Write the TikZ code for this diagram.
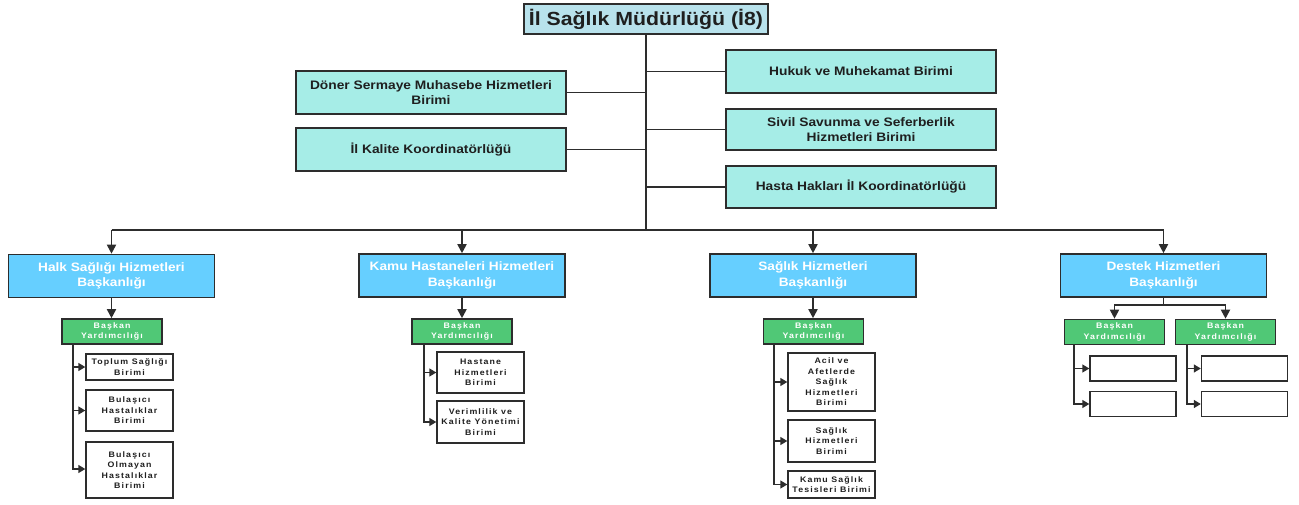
\documentclass[tikz,border=0pt]{standalone}
\usepackage{fontspec}
\setmainfont{Liberation Sans}[FakeStretch=1.12]
\usetikzlibrary{arrows.meta}
\definecolor{boxline}{RGB}{45,45,45}
\definecolor{topfill}{RGB}{184,226,236}
\definecolor{stafffill}{RGB}{166,237,231}
\definecolor{deptfill}{RGB}{102,207,255}
\definecolor{deputyfill}{RGB}{80,200,118}
\newfontfamily\spacedfont{Liberation Sans}[LetterSpace=14,FakeStretch=1.1]
\tikzset{
  box/.style={draw=boxline, line width=1.6pt, align=center, inner sep=1pt, text=black!88},
  topbox/.style={box, fill=topfill, minimum width=244pt, minimum height=30pt,
    font=\fontsize{19}{21}\selectfont\bfseries},
  staffbox/.style={box, fill=stafffill, minimum width=270pt,
    font=\fontsize{12.3}{15}\selectfont\bfseries},
  deptbox/.style={box, fill=deptfill, minimum width=206pt, minimum height=43pt,
    text=white, font=\fontsize{12.2}{15.5}\selectfont\bfseries},
  deputybox/.style={box, fill=deputyfill, minimum width=100pt, minimum height=25pt,
    text=white, font=\spacedfont\fontsize{8}{10.5}\selectfont\bfseries},
  unitbox/.style={box, fill=white, minimum width=87pt, line width=1.4pt,
    font=\spacedfont\fontsize{8}{10.5}\selectfont\bfseries},
  link/.style={draw=boxline, line width=1.8pt},
  arrow/.style={link, -{Triangle[length=9pt,width=9pt]}},
  subarrow/.style={link, line width=1.5pt, -{Triangle[length=7pt,width=8pt]}}
}
\begin{document}
\begin{tikzpicture}[x=1pt,y=-1pt]
\useasboundingbox (0,0) rectangle (1299,505);

% head office
\node[topbox] (head) at (646,19) {İl Sağlık Müdürlüğü (İ8)};

% staff units attached to the trunk
\node[staffbox, minimum height=43pt] (doner) at (431,92.5) {Döner Sermaye Muhasebe Hizmetleri\\Birimi};
\node[staffbox, minimum height=43pt] (kalite) at (431,149.5) {İl Kalite Koordinatörlüğü};
\node[staffbox, minimum height=43pt] (hukuk) at (861,71.5) {Hukuk ve Muhekamat Birimi};
\node[staffbox, minimum height=41pt] (sivil) at (861,129.5) {Sivil Savunma ve Seferberlik\\Hizmetleri Birimi};
\node[staffbox, minimum height=42pt] (hasta) at (861,187) {Hasta Hakları İl Koordinatörlüğü};

\coordinate (bus) at (646,230);
\draw[link] (head.south) -- (bus);
\foreach \n in {doner,kalite}{\draw[link] (\n.east) -- (\n.east -| head.south);}
\foreach \n in {hukuk,sivil,hasta}{\draw[link] (\n.west) -- (\n.west -| head.south);}

% departments
\node[deptbox] (halk) at (111.5,276) {Halk Sağlığı Hizmetleri\\Başkanlığı};
\node[deptbox] (kamu) at (462,275.5) {Kamu Hastaneleri Hizmetleri\\Başkanlığı};
\node[deptbox] (saglik) at (813,275.5) {Sağlık Hizmetleri\\Başkanlığı};
\node[deptbox] (destek) at (1163.5,275.5) {Destek Hizmetleri\\Başkanlığı};

\draw[link] (halk.north |- bus) -- (destek.north |- bus);
\foreach \n in {halk,kamu,saglik,destek}{\draw[arrow] (\n.north |- bus) -- (\n.north);}

% deputies
\node[deputybox] (halkdy) at (112,331.5) {Başkan\\Yardımcılığı};
\node[deputybox] (kamudy) at (462,331.5) {Başkan\\Yardımcılığı};
\node[deputybox] (saglikdy) at (813.5,331.5) {Başkan\\Yardımcılığı};
\node[deputybox] (destekdya) at (1114.5,332) {Başkan\\Yardımcılığı};
\node[deputybox] (destekdyb) at (1225.5,332) {Başkan\\Yardımcılığı};

\draw[arrow] (halk.south) -- (halk.south |- halkdy.north);
\draw[arrow] (kamu.south) -- (kamu.south |- kamudy.north);
\draw[arrow] (saglik.south) -- (saglik.south |- saglikdy.north);
\coordinate (split) at (1163.5,305);
\draw[link] (destek.south) -- (split);
\draw[arrow] (split) -| (destekdya.north);
\draw[arrow] (split) -| (destekdyb.north);

% units under Halk Sağlığı
\node[unitbox, minimum height=26pt] (toplum) at (129.5,367) {Toplum Sağlığı\\Birimi};
\node[unitbox, minimum height=41pt] (bulasici) at (129.5,410.5) {Bulaşıcı\\Hastalıklar\\Birimi};
\node[unitbox, minimum height=56pt] (bulasmayan) at (129.5,470) {Bulaşıcı\\Olmayan\\Hastalıklar\\Birimi};
\coordinate (halkrail) at (73,344);
\foreach \n in {toplum,bulasici}{\draw[subarrow] (halkrail) |- (\n.west);}
\draw[subarrow] (halkrail) |- (bulasmayan.west |- 0,469);

% units under Kamu Hastaneleri
\node[unitbox, minimum height=41pt] (hastane) at (480.5,372.5) {Hastane\\Hizmetleri\\Birimi};
\node[unitbox, minimum height=42pt] (verim) at (480.5,422) {Verimlilik ve\\Kalite Yönetimi\\Birimi};
\coordinate (kamurail) at (424,344);
\foreach \n in {hastane,verim}{\draw[subarrow] (kamurail) |- (\n.west);}

% units under Sağlık Hizmetleri
\node[unitbox, minimum height=58pt] (acil) at (831.5,382) {Acil ve\\Afetlerde\\Sağlık\\Hizmetleri\\Birimi};
\node[unitbox, minimum height=42pt] (shb) at (831.5,441) {Sağlık\\Hizmetleri\\Birimi};
\node[unitbox, minimum height=27pt] (tesis) at (831.5,484.5) {Kamu Sağlık\\Tesisleri Birimi};
\coordinate (saglikrail) at (774,344);
\foreach \n in {acil,shb,tesis}{\draw[subarrow] (saglikrail) |- (\n.west);}

% empty units under Destek Hizmetleri
\node[unitbox, minimum width=86pt, minimum height=25pt] (da1) at (1133,368.5) {};
\node[unitbox, minimum width=86pt, minimum height=25pt] (da2) at (1133,404) {};
\node[unitbox, minimum width=86pt, minimum height=25pt] (db1) at (1244.5,368.5) {};
\node[unitbox, minimum width=86pt, minimum height=25pt] (db2) at (1244.5,404) {};
\coordinate (darail) at (1074,345);
\coordinate (dbrail) at (1187,345);
\foreach \n in {da1,da2}{\draw[subarrow] (darail) |- (\n.west);}
\foreach \n in {db1,db2}{\draw[subarrow] (dbrail) |- (\n.west);}
\end{tikzpicture}
\end{document}
